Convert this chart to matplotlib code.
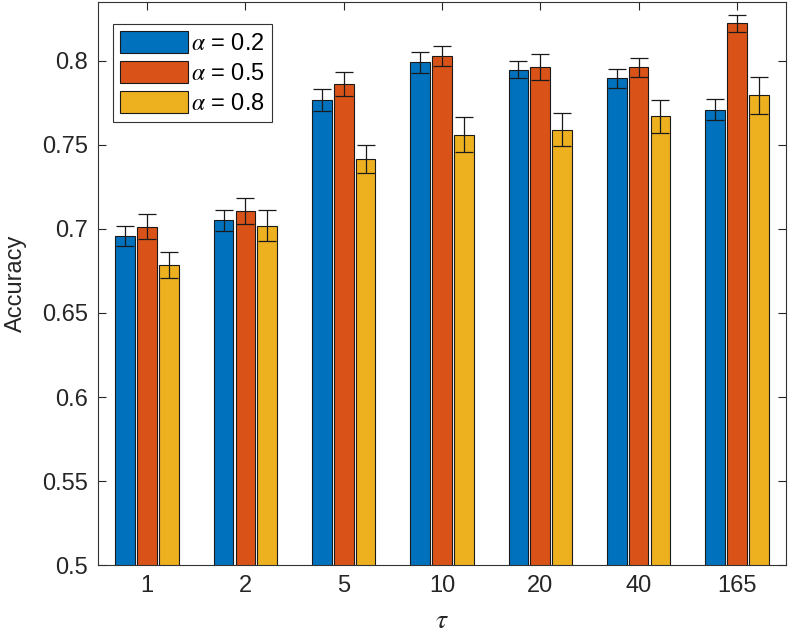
import numpy as np
import matplotlib
matplotlib.use('Agg')
import matplotlib.pyplot as plt

plt.rcParams['font.family'] = ['Liberation Sans', 'DejaVu Sans']
plt.rcParams['mathtext.fontset'] = 'stix'

# data
taus = ['1', '2', '5', '10', '20', '40', '165']
alphas = ['0.2', '0.5', '0.8']
acc_a02 = [0.6958, 0.7052, 0.7768, 0.7990, 0.7946, 0.7895, 0.7710]
acc_a05 = [0.7014, 0.7107, 0.7863, 0.8030, 0.7964, 0.7960, 0.8222]
acc_a08 = [0.6786, 0.7018, 0.7413, 0.7561, 0.7591, 0.7669, 0.7794]
err_a02 = [0.0057, 0.0063, 0.0067, 0.0060, 0.0050, 0.0058, 0.0065]
err_a05 = [0.0073, 0.0078, 0.0072, 0.0059, 0.0077, 0.0054, 0.0052]
err_a08 = [0.0077, 0.0092, 0.0083, 0.0105, 0.0096, 0.0100, 0.0109]

colors = ['#0072BD', '#D95319', '#EDB120']
ax_col = '#262626'

fig = plt.figure(figsize=(8, 6.4), dpi=100)
ax = fig.add_axes([0.1225, 0.117, 0.86, 0.88])

x = np.arange(1, len(taus) + 1)
offsets = [-0.222, 0.0, 0.222]
series = [(acc_a02, err_a02), (acc_a05, err_a05), (acc_a08, err_a08)]
for i, (vals, errs) in enumerate(series):
    ax.bar(x + offsets[i], vals, width=0.2, color=colors[i], edgecolor='#1a1a1a',
           linewidth=0.8, label=r'$\alpha$ = ' + alphas[i], zorder=2)
    ax.errorbar(x + offsets[i], vals, yerr=errs, fmt='none', ecolor='#1a1a1a',
                elinewidth=0.9, capsize=6.5, capthick=0.9, zorder=3)

ax.set_xlim(0.5, 7.5)
ax.set_ylim(0.5, 0.835)
ax.set_xticks(x)
ax.set_xticklabels(taus)
ax.set_yticks([0.5, 0.55, 0.6, 0.65, 0.7, 0.75, 0.8])
ax.set_yticklabels(['0.5', '0.55', '0.6', '0.65', '0.7', '0.75', '0.8'])
ax.tick_params(direction='in', top=True, right=True, labelsize=17,
               colors=ax_col, length=6, width=0.8, pad=7)
for s in ax.spines.values():
    s.set_color('#333333')
    s.set_linewidth(0.8)

ax.set_ylabel('Accuracy', fontsize=17, color=ax_col, labelpad=11)
ax.set_xlabel(r'$\tau$', fontsize=20, color=ax_col, labelpad=8)

leg = ax.legend(loc='upper left', bbox_to_anchor=(0.022, 0.961), fontsize=17,
                handlelength=2.85, handleheight=1.05, handletextpad=0.15,
                labelspacing=0.25, borderpad=0.3, fancybox=False,
                framealpha=1, edgecolor='#333333', borderaxespad=0)
leg.get_frame().set_linewidth(0.8)

fig.savefig('out.png', dpi=100)
